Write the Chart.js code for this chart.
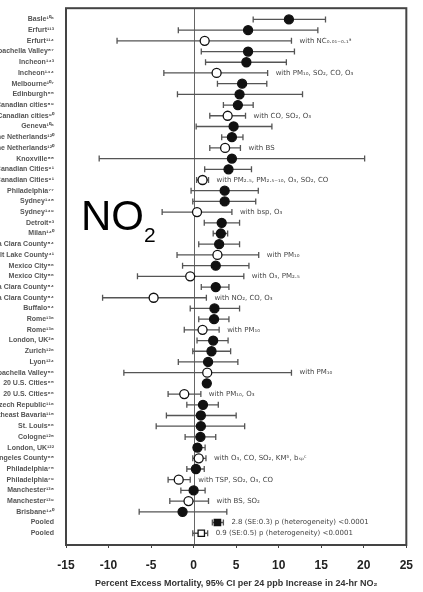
<!DOCTYPE html>
<html lang="en">
<head>
  <meta charset="UTF-8" />
  <title>NO2 - Percent Excess Mortality</title>
  <script src="https://cdn.jsdelivr.net/npm/chart.js"></script>
  <style>
    html, body { margin: 0; padding: 0; background: #fff; }
    #wrap { width: 423px; height: 592px; position: relative; }
  </style>
</head>
<body>
  <div id="wrap"><canvas id="forestChart"></canvas></div>

  <script>
    // Study labels, top to bottom
    var studies = [
      'Basle\u00b9\u2070\u2076', 'Erfurt\u00b9\u00b9\u00b3', 'Erfurt\u00b9\u00b9\u2074', 'Coachella Valley\u2078\u2077',
      'Incheon\u00b9\u2074\u00b3', 'Incheon\u00b9\u2074\u2074', 'Melbourne\u00b9\u2070\u2077', 'Edinburgh\u2075\u2075',
      'Canadian cities\u2078\u2079', 'Canadian cities\u2079\u2070', 'Geneva\u00b9\u2070\u2076', 'The Netherlands\u00b9\u00b2\u2070',
      'The Netherlands\u00b9\u00b2\u2070', 'Knoxville\u2078\u2078', 'Canadian Cities\u2079\u00b9', 'Canadian Cities\u2079\u00b9',
      'Philadelphia\u2077\u2077', 'Sydney\u00b9\u2074\u2078', 'Sydney\u00b9\u2074\u2079', 'Detroit\u2076\u00b3',
      'Milan\u00b9\u2074\u2070', 'Santa Clara County\u2078\u2074', 'Salt Lake County\u2074\u00b9', 'Mexico City\u2078\u2076',
      'Mexico City\u2078\u2076', 'Santa Clara County\u2078\u2074', 'Santa Clara County\u2078\u2074', 'Buffalo\u2075\u2074',
      'Rome\u00b9\u00b3\u2076', 'Rome\u00b9\u00b3\u2076', 'London, UK\u00b2\u2078', 'Zurich\u00b9\u00b2\u2076',
      'Lyon\u00b9\u00b2\u2074', 'Coachella Valley\u2075\u2076', '20 U.S. Cities\u2076\u2075', '20 U.S. Cities\u2076\u2076',
      'Czech Republic\u00b9\u00b9\u2076', 'Northeast Bavaria\u00b9\u00b9\u2075', 'St. Louis\u2076\u2076', 'Cologne\u00b9\u00b2\u2075',
      'London, UK\u00b9\u00b2\u00b2', 'Los Angeles County\u2076\u2078', 'Philadelphia\u2077\u2075', 'Philadelphia\u2077\u2079',
      'Manchester\u00b9\u00b3\u2078', 'Manchester\u00b9\u00b3\u2079', 'Brisbane\u00b9\u2074\u2070', 'Pooled', 'Pooled'
    ];

    // Percent excess mortality per 24 ppb NO2 and 95% CI
    var estimate = [11.2, 6.4, 1.3, 6.4, 6.2, 2.7, 5.7, 5.4, 5.2, 4.0, 4.7, 4.5, 3.7, 4.5, 4.1, 1.05,
      3.65, 3.65, 0.4, 3.3, 3.2, 3.0, 2.8, 2.6, -0.4, 2.6, -4.7, 2.45, 2.4, 1.05, 2.3, 2.1,
      1.7, 1.6, 1.55, -1.1, 1.1, 0.85, 0.85, 0.8, 0.45, 0.6, 0.27, -1.75, 0.0, -0.6, -1.3, 2.8, 0.9];
    var lower = [7.0, -1.8, -9.0, 0.9, 1.4, -3.5, 2.8, -1.9, 3.5, 1.9, 0.3, 3.3, 1.9, -11.1, 1.3, 0.35,
      -0.3, -0.1, -3.7, 1.25, 2.3, 0.6, -1.95, -1.3, -6.6, 0.9, -10.7, -0.4, 0.6, -1.1, 0.4, -0.1,
      -1.8, -8.2, null, -3.0, -0.8, -3.2, -4.4, -1.0, 0.0, -0.1, -0.8, -3.0, -1.5, -2.8, -6.4, 2.2, -0.1];
    var upper = [15.5, 14.6, 11.5, 11.85, 10.9, 8.7, 8.6, 12.8, 7.0, 6.1, 9.2, 5.8, 5.5, 20.1, 6.8, 1.75,
      7.6, 7.3, 4.5, 5.4, 4.0, 5.4, 7.65, 6.5, 5.9, 4.15, 1.5, 5.4, 4.15, 3.0, 4.05, 4.35,
      5.2, 11.5, null, 0.85, 2.9, 5.0, 6.0, 2.6, 1.35, 1.45, 1.25, -0.4, 1.35, 1.75, 3.9, 3.5, 1.65];

    // dot = single pollutant, ring = multipollutant, box = pooled
    var marker = ['dot', 'dot', 'ring', 'dot', 'dot', 'ring', 'dot', 'dot', 'dot', 'ring', 'dot', 'dot',
      'ring', 'dot', 'dot', 'ring', 'dot', 'dot', 'ring', 'dot', 'dot', 'dot', 'ring', 'dot',
      'ring', 'dot', 'ring', 'dot', 'dot', 'ring', 'dot', 'dot', 'dot', 'ring', 'dot', 'ring',
      'dot', 'dot', 'dot', 'dot', 'dot', 'ring', 'dot', 'ring', 'dot', 'ring', 'dot', 'box', 'openbox'];

    var notes = ['', '', 'with NC\u2080.\u2080\u2081\u208b\u2080.\u2081\u1d43', '', '', 'with PM\u2081\u2080, SO\u2082, CO, O\u2083',
      '', '', '', 'with CO, SO\u2082, O\u2083', '', '', 'with BS', '', '',
      'with PM\u2082.\u2085, PM\u2082.\u2085\u208b\u2081\u2080, O\u2083, SO\u2082, CO', '', '', 'with bsp, O\u2083', '', '', '',
      'with PM\u2081\u2080', '', 'with O\u2083, PM\u2082.\u2085', '', 'with NO\u2082, CO, O\u2083', '', '', 'with PM\u2081\u2080',
      '', '', '', 'with PM\u2081\u2080', '', 'with PM\u2081\u2080, O\u2083', '', '', '', '', '',
      'with O\u2083, CO, SO\u2082, KM\u1d47, b\u209b\u209a\u1d9c', '', 'with TSP, SO\u2082, O\u2083, CO', '', 'with BS, SO\u2082', '',
      '2.8 (SE:0.3) p (heterogeneity) <0.0001', '0.9 (SE:0.5) p (heterogeneity) <0.0001'];

    var xTicks = [-15, -10, -5, 0, 5, 10, 15, 20, 25];

    // error bars, zero line and frame
    var forestPlugin = {
      id: 'forest',
      beforeDatasetsDraw: function(chart) {
        var ctx = chart.ctx, xs = chart.scales.x, ys = chart.scales.y, a = chart.chartArea;
        ctx.save();
        ctx.strokeStyle = '#666';
        ctx.lineWidth = 1;
        var zx = Math.round(xs.getPixelForValue(0)) + 0.5;
        ctx.beginPath(); ctx.moveTo(zx, a.top); ctx.lineTo(zx, a.bottom); ctx.stroke();

        ctx.strokeStyle = '#555';
        ctx.lineWidth = 1.3;
        for (var i = 0; i < estimate.length; i++) {
          if (lower[i] === null) continue;
          var y = ys.getPixelForValue(i);
          var x1 = xs.getPixelForValue(lower[i]), x2 = xs.getPixelForValue(upper[i]);
          ctx.beginPath();
          ctx.moveTo(x1, y); ctx.lineTo(x2, y);
          ctx.moveTo(x1, y - 3); ctx.lineTo(x1, y + 3);
          ctx.moveTo(x2, y - 3); ctx.lineTo(x2, y + 3);
          ctx.stroke();
        }
        ctx.restore();
      },
      afterDraw: function(chart) {
        var ctx = chart.ctx, xs = chart.scales.x, ys = chart.scales.y, a = chart.chartArea;
        ctx.save();
        // notes
        ctx.fillStyle = '#444';
        ctx.font = '7px "DejaVu Sans", Arial, sans-serif';
        ctx.textBaseline = 'middle';
        for (var i = 0; i < notes.length; i++) {
          if (!notes[i]) continue;
          var end = upper[i] !== null ? upper[i] : estimate[i];
          ctx.fillText(notes[i], xs.getPixelForValue(end) + 8, ys.getPixelForValue(i));
        }
        // frame
        ctx.strokeStyle = '#444';
        ctx.lineWidth = 2;
        ctx.strokeRect(a.left, a.top, a.right - a.left, a.bottom - a.top);
        // big NO2 label
        ctx.fillStyle = '#000';
        ctx.textBaseline = 'alphabetic';
        ctx.font = '42px Arial, "Liberation Sans", sans-serif';
        ctx.fillText('NO', 81, 230);
        var w = ctx.measureText('NO').width;
        ctx.font = '21px Arial, "Liberation Sans", sans-serif';
        ctx.fillText('2', 81 + w, 242);
        ctx.restore();
      }
    };

    var ctx = document.getElementById('forestChart').getContext('2d');
    new Chart(ctx, {
      type: 'scatter',
      data: {
        datasets: [{
          data: estimate.map(function(v, i) { return { x: v, y: i }; }),
          pointStyle: marker.map(function(m) { return (m === 'box' || m === 'openbox') ? 'rect' : 'circle'; }),
          pointRadius: marker.map(function(m) { return m === 'box' || m === 'openbox' ? 4.5 : 4.5; }),
          backgroundColor: marker.map(function(m) { return (m === 'dot' || m === 'box') ? '#111' : '#fff'; }),
          borderColor: '#111',
          borderWidth: 1.3
        }]
      },
      plugins: [forestPlugin],
      options: {
        responsive: true,
        maintainAspectRatio: false,
        animation: false,
        layout: { padding: { top: 8, right: 13, left: 0, bottom: 0 } },
        plugins: { legend: { display: false }, tooltip: { enabled: false } },
        scales: {
          x: {
            type: 'linear',
            min: -15,
            max: 25,
            afterBuildTicks: function(axis) { axis.ticks = xTicks.map(function(v) { return { value: v }; }); },
            afterFit: function(axis) { axis.height = 47; },
            grid: { drawOnChartArea: false, tickLength: 3, color: '#444' },
            border: { display: false },
            ticks: {
              padding: 10,
              color: '#222',
              font: { family: 'Arial, "Liberation Sans", sans-serif', size: 12, weight: 'bold' }
            },
            title: {
              display: true,
              text: 'Percent Excess Mortality, 95% CI per 24 ppb Increase in 24-hr NO\u2082',
              color: '#333',
              font: { family: 'Arial, "Liberation Sans", sans-serif', size: 9, weight: 'bold' },
              padding: { top: 2, bottom: 3 }
            }
          },
          y: {
            type: 'linear',
            reverse: true,
            min: -1.05,
            max: 49.1,
            afterBuildTicks: function(axis) { axis.ticks = studies.map(function(s, i) { return { value: i }; }); },
            afterFit: function(axis) { axis.width = 66; },
            grid: { display: false },
            border: { display: false },
            ticks: {
              autoSkip: false,
              padding: 4,
              color: '#555',
              font: { family: 'Arial, "Liberation Sans", sans-serif', size: 7, weight: 'bold' },
              callback: function(value) { return studies[value] || ''; }
            }
          }
        }
      }
    });
  </script>
</body>
</html>
